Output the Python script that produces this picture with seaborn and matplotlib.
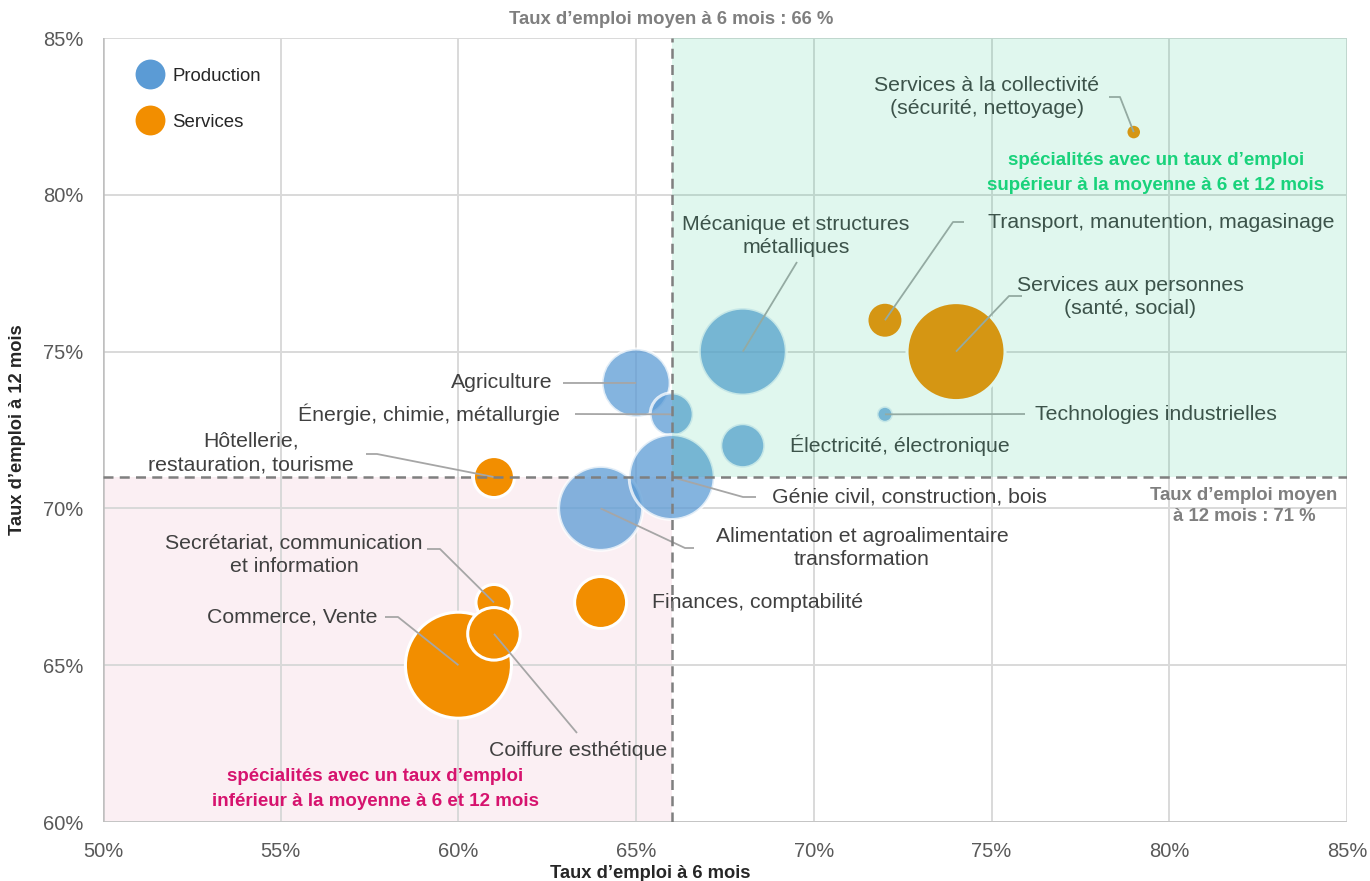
import matplotlib
matplotlib.use("Agg")
import matplotlib.pyplot as plt
from matplotlib.lines import Line2D
from matplotlib.patches import Rectangle
import seaborn as sns
import pandas as pd

# ---------------- data ----------------
specialites = [
    "Agriculture", "Énergie, chimie, métallurgie", "Mécanique et structures métalliques",
    "Électricité, électronique", "Technologies industrielles",
    "Alimentation et agroalimentaire transformation", "Génie civil, construction, bois",
    "Commerce, Vente", "Secrétariat, communication et information", "Coiffure esthétique",
    "Hôtellerie, restauration, tourisme", "Finances, comptabilité",
    "Transport, manutention, magasinage", "Services aux personnes (santé, social)",
    "Services à la collectivité (sécurité, nettoyage)",
]
domaine = ["Production"] * 7 + ["Services"] * 8
taux_6_mois = [65, 66, 68, 68, 72, 64, 66, 60, 61, 61, 61, 64, 72, 74, 79]
taux_12_mois = [74, 73, 75, 72, 73, 70, 71, 65, 67, 66, 71, 67, 76, 75, 82]
effectif = [1156, 462, 1892, 484, 64, 1764, 1806, 2809, 324, 690, 420, 676, 324, 2401, 61]
moyenne_6 = 66
moyenne_12 = 71
x_ticks = [50, 55, 60, 65, 70, 75, 80, 85]
y_ticks = [60, 65, 70, 75, 80, 85]

df = pd.DataFrame({"spec": specialites, "domaine": domaine, "x": taux_6_mois,
                   "y": taux_12_mois, "eff": effectif})

# ---------------- style ----------------
sns.set_theme(style="white")
plt.rcParams["font.family"] = ["Liberation Sans", "DejaVu Sans"]

W, H, DPI = 1370, 881, 100
fig = plt.figure(figsize=(W / DPI, H / DPI), dpi=DPI)
L, R, T, B = 103, 1347, 38, 822
ax = fig.add_axes([L / W, 1 - B / H, (R - L) / W, (B - T) / H])
ax.set_xlim(50, 85)
ax.set_ylim(60, 85)

def px(xp, yp):
    return 50 + (xp - L) * 35 / (R - L), 60 + (B - yp) * 25 / (B - T)

BLUE = "#5B9BD5"
ORANGE = "#F28E00"
TXT = "#404040"
FS = 15.3

# background zone (below)
ax.add_patch(Rectangle((50, 60), moyenne_6 - 50, moyenne_12 - 60, facecolor="#FBEFF3",
                       edgecolor="none", zorder=0))

ax.set_xticks(x_ticks)
ax.set_yticks(y_ticks)
ax.set_xticklabels([f"{v}%" for v in x_ticks])
ax.set_yticklabels([f"{v}%" for v in y_ticks])
ax.grid(True, color="#D9D9D9", lw=1.4, zorder=0.5)
ax.set_axisbelow(True)
for s in ax.spines.values():
    s.set_visible(False)
ax.axvline(50, color="#BFBFBF", lw=1.8, zorder=0.6)
ax.axhline(60, color="#BFBFBF", lw=1.8, zorder=0.6)
ax.tick_params(axis="both", length=0, labelsize=14.5, labelcolor="#595959")
ax.tick_params(axis="x", pad=14.5)
ax.tick_params(axis="y", pad=14)

size_kw = dict(size="eff", sizes=(0, 2.0736 * 3000), size_norm=(0, 3000), legend=False)
sns.scatterplot(data=df[df.domaine == "Production"], x="x", y="y", color=BLUE, alpha=0.75,
                edgecolor="white", linewidth=2.2, ax=ax, zorder=2, **size_kw)
sns.scatterplot(data=df[df.domaine == "Services"], x="x", y="y", color=ORANGE, alpha=1.0,
                edgecolor="white", linewidth=2.2, ax=ax, zorder=2, **size_kw)

# labels: text, pixel anchor, ha, leader pixel points
labels = {
    "Services à la collectivité (sécurité, nettoyage)": ("Services à la collectivité\n(sécurité, nettoyage)", (987, 97), "center", [(1109, 97), (1120, 97)]),
    "Transport, manutention, magasinage": ("Transport, manutention, magasinage", (988, 222), "left", [(964, 222), (953, 222)]),
    "Services aux personnes (santé, social)": ("Services aux personnes\n(santé, social)", (1130, 297), "center", [(1022, 296), (1009, 296)]),
    "Mécanique et structures métalliques": ("Mécanique et structures\nmétalliques", (796, 236), "center", [(797, 262)]),
    "Technologies industrielles": ("Technologies industrielles", (1035, 414), "left", [(1025, 414)]),
    "Électricité, électronique": ("Électricité, électronique", (900, 445), "center", []),
    "Agriculture": ("Agriculture", (553, 383), "right", [(563, 383)]),
    "Énergie, chimie, métallurgie": ("Énergie, chimie, métallurgie", (560, 414), "right", [(575, 414)]),
    "Hôtellerie, restauration, tourisme": ("Hôtellerie,\nrestauration, tourisme", (251, 453), "center", [(366, 454), (377, 454)]),
    "Secrétariat, communication et information": ("Secrétariat, communication\net information", (294, 555), "center", [(427, 549), (440, 549)]),
    "Commerce, Vente": ("Commerce, Vente", (377, 617), "right", [(385, 617), (398, 617)]),
    "Coiffure esthétique": ("Coiffure esthétique", (578, 751), "center", [(577, 733)]),
    "Finances, comptabilité": ("Finances, comptabilité", (652, 602), "left", []),
    "Génie civil, construction, bois": ("Génie civil, construction, bois", (772, 497), "left", [(756, 497), (743, 497)]),
    "Alimentation et agroalimentaire transformation": ("Alimentation et agroalimentaire\ntransformation", (862, 548), "center", [(694, 548), (685, 548)]),
}
for spec, xv, yv in zip(specialites, taux_6_mois, taux_12_mois):
    txt, (tx, ty), ha, leader = labels[spec]
    if leader:
        pts = [px(*p) for p in leader] + [(xv, yv)]
        ax.plot([p[0] for p in pts], [p[1] for p in pts], color="#A6A6A6", lw=1.3,
                zorder=3, solid_capstyle="butt")
    dx, dy = px(tx, ty)
    ax.text(dx, dy, txt, ha=ha, va="center", multialignment="center", fontsize=FS,
            color=TXT, linespacing=1.3, zorder=3)

# green zone overlay (above marks)
ax.add_patch(Rectangle((moyenne_6, moyenne_12), 85 - moyenne_6, 85 - moyenne_12,
                       facecolor="#27C98A", alpha=0.14, edgecolor="none", zorder=4))

dash = (0, (4, 2.5))
ax.plot([moyenne_6, moyenne_6], [60, 85], color="#7F7F7F", lw=1.8, ls=dash, zorder=5)
ax.plot([50, 85], [moyenne_12, moyenne_12], color="#7F7F7F", lw=1.8, ls=dash, zorder=5)

GREY_B = "#7F7F7F"
ax.text(moyenne_6, px(0, 20)[1], f"Taux d’emploi moyen à 6 mois : {moyenne_6} %",
        ha="center", va="center", fontsize=13.3, fontweight="bold", color=GREY_B,
        zorder=6, clip_on=False)
gx, gy = px(1244, 506)
ax.text(gx, gy, f"Taux d’emploi moyen\nà 12 mois : {moyenne_12} %", ha="center", va="center",
        multialignment="center", fontsize=13.3, fontweight="bold", color=GREY_B,
        linespacing=1.27, zorder=6)
gx, gy = px(1156, 173)
ax.text(gx, gy, "spécialités avec un taux d’emploi\nsupérieur à la moyenne à 6 et 12 mois",
        ha="center", va="center", multialignment="center", fontsize=13.5, fontweight="bold",
        color="#19D27B", linespacing=1.67, zorder=6)
gx, gy = px(375, 789)
ax.text(gx, gy, "spécialités avec un taux d’emploi\ninférieur à la moyenne à 6 et 12 mois",
        ha="center", va="center", multialignment="center", fontsize=13.5, fontweight="bold",
        color="#D6136E", linespacing=1.67, zorder=6)

ax.set_xlabel("Taux d’emploi à 6 mois", fontsize=13.2, fontweight="bold", color="#262626")
ax.set_ylabel("Taux d’emploi à 12 mois", fontsize=13.2, fontweight="bold", color="#262626")
ax.xaxis.set_label_coords((650 - L) / (R - L), -(865 - B) / (B - T))
ax.yaxis.set_label_coords(-(L - 26) / (R - L), 0.5)

handles = [Line2D([], [], marker="o", ls="", markersize=21.5, markerfacecolor=c,
                  markeredgecolor="none") for c in (BLUE, ORANGE)]
leg = ax.legend(handles, ["Production", "Services"], loc="upper left",
                bbox_to_anchor=(0.019, 0.974), frameon=False, fontsize=13.4,
                labelspacing=1.55, handletextpad=0.45, handlelength=1.5, borderpad=0)
for t in leg.get_texts():
    t.set_color("#262626")

fig.savefig("out.png", dpi=DPI)
